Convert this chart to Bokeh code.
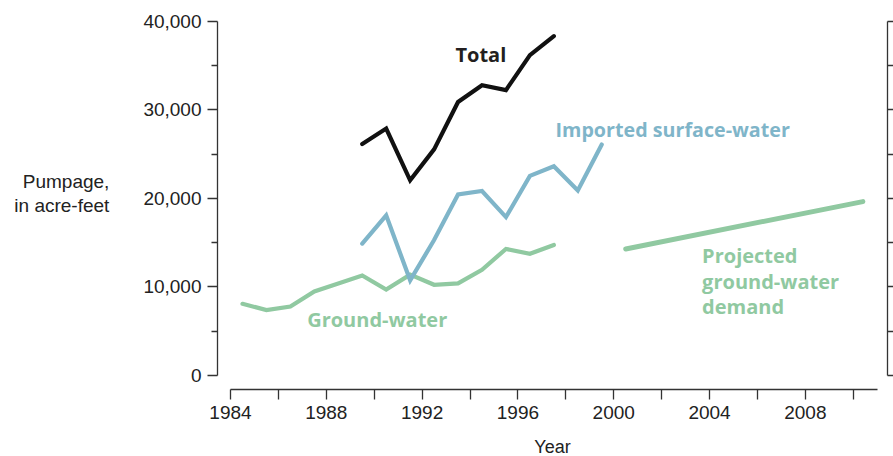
from bokeh.plotting import figure
from bokeh.models import Range1d, LinearAxis, FixedTicker, NumeralTickFormatter
from bokeh.core.properties import value
from bokeh.embed import file_html
from bokeh.resources import INLINE

# ---- data ----
ground_years = [1984.5, 1985.5, 1986.5, 1987.5, 1988.5, 1989.5, 1990.5,
                1991.5, 1992.5, 1993.5, 1994.5, 1995.5, 1996.5, 1997.5]
ground = [8100, 7400, 7800, 9500, 10400, 11300, 9700,
          11400, 10250, 10400, 11950, 14300, 13750, 14750]

surface_years = [1989.5, 1990.5, 1991.5, 1992.5, 1993.5, 1994.5,
                 1995.5, 1996.5, 1997.5, 1998.5, 1999.5]
surface = [14900, 18100, 10750, 15300, 20450, 20850,
           17900, 22550, 23650, 20900, 26100]

total_years = [1989.5, 1990.5, 1991.5, 1992.5, 1993.5, 1994.5,
               1995.5, 1996.5, 1997.5]
total = [26150, 27900, 22050, 25550, 30900, 32800, 32250, 36200, 38350]

projected_years = [2000.5, 2010.4]
projected = [14300, 19650]

x_major = [1984, 1988, 1992, 1996, 2000, 2004, 2008]
x_minor = [1986, 1990, 1994, 1998, 2002, 2006, 2010]
y_major = [0, 10000, 20000, 30000, 40000]
y_minor = [5000, 15000, 25000, 35000]
y_all = [0, 5000, 10000, 15000, 20000, 25000, 30000, 35000, 40000]

BLACK = "#111111"
BLUE = "#7fb5c9"
GREEN = "#90c9a1"
AXIS = "#333333"
TXT = "#222222"
FONT = "Liberation Sans"
BFONT = "Open Sans"

p = figure(frame_width=670, frame_height=368,
           min_border_left=217, min_border_right=6,
           min_border_top=21, min_border_bottom=67,
           x_range=Range1d(1983.457, 2011.43), y_range=Range1d(-1584, 40000),
           output_backend="svg", toolbar_location=None)
p.grid.visible = False
p.outline_line_color = None
p.background_fill_color = "white"
p.border_fill_color = "white"

# x axis
xa = p.xaxis[0]
xa.ticker = FixedTicker(ticks=x_major, minor_ticks=x_minor)
xa.bounds = (1984, 2011)
xa.major_tick_in = 0
xa.major_tick_out = 10
xa.minor_tick_in = 0
xa.minor_tick_out = 10
xa.axis_line_color = AXIS
xa.axis_line_width = 1.3
xa.major_tick_line_color = AXIS
xa.minor_tick_line_color = AXIS
xa.major_tick_line_width = 1.3
xa.minor_tick_line_width = 1.3
xa.major_label_standoff = 6
xa.major_label_text_font = FONT
xa.major_label_text_font_size = "19px"
xa.major_label_text_color = TXT
xa.axis_label = "Year"
xa.axis_label_standoff = 15
xa.axis_label_text_font = FONT
xa.axis_label_text_font_size = "18px"
xa.axis_label_text_font_style = "normal"
xa.axis_label_text_color = TXT

# left y axis
ya = p.yaxis[0]
ya.ticker = FixedTicker(ticks=y_major, minor_ticks=y_minor)
ya.bounds = (0, 40000)
ya.formatter = NumeralTickFormatter(format="0,0")
ya.major_tick_in = 0
ya.major_tick_out = 10
ya.minor_tick_in = 0
ya.minor_tick_out = 6
ya.axis_line_color = AXIS
ya.axis_line_width = 1.3
ya.major_tick_line_color = AXIS
ya.minor_tick_line_color = AXIS
ya.major_tick_line_width = 1.3
ya.minor_tick_line_width = 1.3
ya.major_label_standoff = 6
ya.major_label_text_font = FONT
ya.major_label_text_font_size = "19px"
ya.major_label_text_color = TXT
ya.axis_label = "Pumpage,\nin acre-feet\n"
ya.axis_label_orientation = "horizontal"
ya.axis_label_standoff = 31
ya.axis_label_text_align = "center"
ya.axis_label_text_line_height = 1.15
ya.axis_label_text_font = FONT
ya.axis_label_text_font_size = "19px"
ya.axis_label_text_font_style = "normal"
ya.axis_label_text_color = TXT

# right axis (ticks only, no labels)
ra = LinearAxis(ticker=FixedTicker(ticks=[], minor_ticks=y_all),
                bounds=(0, 40000))
ra.major_tick_in = 0
ra.major_tick_out = 6
ra.minor_tick_in = 0
ra.minor_tick_out = 6
ra.axis_line_color = AXIS
ra.axis_line_width = 1.3
ra.major_tick_line_color = AXIS
ra.minor_tick_line_color = AXIS
ra.major_tick_line_width = 1.3
ra.minor_tick_line_width = 1.3
ra.major_label_standoff = 0
p.add_layout(ra, "right")

# lines
p.line(ground_years, ground, line_color=GREEN, line_width=4.2,
       line_cap="round", line_join="miter")
p.line(surface_years, surface, line_color=BLUE, line_width=4.2,
       line_cap="round", line_join="miter")
p.line(total_years, total, line_color=BLACK, line_width=4.2,
       line_cap="round", line_join="miter")
p.line(projected_years, projected, line_color=GREEN, line_width=5,
       line_cap="round", line_join="round")

# labels
def lbl(x, y, t, c, size="20px"):
    p.text(x=[x], y=[y], text=[t], text_color=c, text_font=value(BFONT),
           text_font_style="bold", text_font_size=size,
           text_baseline="alphabetic", text_align="left")

lbl(1993.39, 36230, "Total", "#231f20")
lbl(1997.57, 27830, "Imported surface-water", BLUE, "19.7px")
lbl(1987.2, 6330, "Ground-water", GREEN)
lbl(2003.69, 13610, "Projected", GREEN)
lbl(2003.69, 10660, "ground-water", GREEN)
lbl(2003.69, 7740, "demand", GREEN)

open("out.html", "w").write(file_html(p, INLINE))
